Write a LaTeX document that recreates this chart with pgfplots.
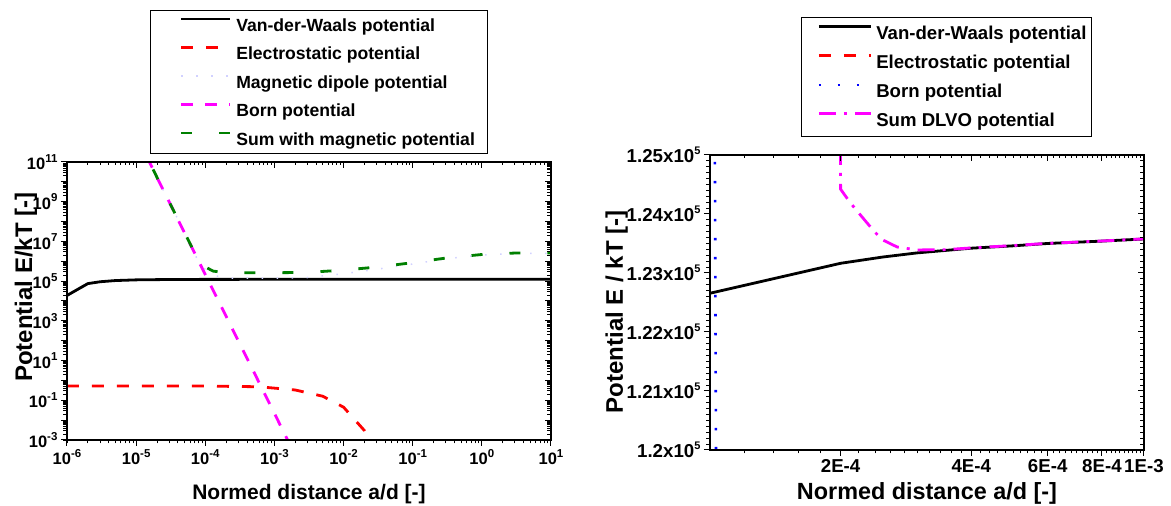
\documentclass[border=0pt]{standalone}
\usepackage{pgfplots}
\pgfplotsset{compat=1.18}
\usepackage{fontspec}
\setmainfont{Liberation Sans}

\definecolor{sumgreen}{RGB}{0,128,0}
\definecolor{pmag}{RGB}{255,0,255}
\definecolor{pblue}{RGB}{0,0,255}
\definecolor{pred}{RGB}{255,0,0}

\newcommand\fs[1]{\fontsize{#1}{#1}\selectfont\bfseries}
% raised exponent in the tick labels
\newcommand\sps[2][11.5]{\raisebox{0.45em}{\fontsize{#1}{#1}\selectfont\bfseries #2}}

\tikzset{
  vdw/.style={black, line width=2.8pt},
  elec/.style={pred, line width=2.8pt, dash pattern=on 12pt off 13pt},
  magn/.style={blue!18, line width=1.5pt, dash pattern=on 1.5pt off 13.5pt},
  bornL/.style={pmag, line width=2.8pt, dash pattern=on 12pt off 12pt},
  summ/.style={sumgreen, line width=2.8pt, dash pattern=on 11pt off 27pt},
  bornR/.style={pblue, line width=2.6pt, dash pattern=on 2.5pt off 16.5pt},
  dlvo/.style={pmag, line width=2.8pt, dash pattern=on 17pt off 8pt on 3pt off 8pt},
}

\begin{document}
\begin{tikzpicture}[x=1pt,y=1pt]
\path[use as bounding box] (0,0) rectangle (1171,506);

% ---------------- left panel: potentials with magnetic term ----------------
\begin{axis}[scale only axis, anchor=south west, at={(67pt,66pt)},
  width=484pt, height=278pt,
  xmode=log, ymode=log, xmin=1e-6, xmax=10, ymin=1e-3, ymax=1e11,
  axis line style={line width=1.3pt},
  major tick style={line width=1pt, black},
  minor tick style={line width=0.8pt, black},
  major tick length=6pt, minor tick length=3.5pt,
  tick align=outside, xtick pos=left, ytick pos=left,
  xtick={1e-6,1e-5,1e-4,1e-3,1e-2,1e-1,1,10},
  ytick={1e-3,1e-2,1e-1,1,1e1,1e2,1e3,1e4,1e5,1e6,1e7,1e8,1e9,1e10,1e11},
  xticklabels={10\sps{-6},10\sps{-5},10\sps{-4},10\sps{-3},10\sps{-2},10\sps{-1},10\sps{0},10\sps{1}},
  yticklabels={10\sps{-3},{},10\sps{-1},{},10\sps{1},{},10\sps{3},{},10\sps{5},{},10\sps{7},{},10\sps{9},{},10\sps{11}},
  tick label style={font=\fs{16.5}},
  xlabel={Normed distance a/d [-]},
  xlabel style={font=\fs{21}, at={(axis description cs:0.5,-0.2158)}, anchor=base},
  ylabel={Potential E/kT [-]},
  ylabel style={font=\fs{24}, at={(axis description cs:-0.0723,0.550)}, anchor=base},
  legend style={at={(0.1715,1.5468)}, anchor=north west, draw=black, line width=1pt,
    fill=white, inner xsep=11.5pt, inner ysep=6.5pt, font=\fs{17.6},
    row sep=12pt, column sep=3pt, nodes={inner xsep=1.5pt, inner ysep=0.5pt},
    cells={anchor=west}},
  legend image code/.code={\path (-18pt,6.3pt); \draw[#1] (0pt,6.3pt) -- (49pt,6.3pt);},
]
\addplot[vdw] coordinates {
  (1e-6,1.9e4) (2e-6,7.5e4) (3e-6,9.3e4) (5e-6,1.07e5) (1e-5,1.16e5)
  (3e-5,1.21e5) (1e-4,1.2265e5) (1e-3,1.2356e5) (1e-2,1.238e5)
  (1e-1,1.239e5) (1,1.239e5) (10,1.239e5)};
\addlegendentry{\rule[-4pt]{0pt}{18pt}Van-der-Waals potential}
\addplot[elec] coordinates {
  (1e-6,0.53) (1e-5,0.53) (1e-4,0.52) (6e-4,0.48) (2e-3,0.33)
  (5e-3,0.16) (1e-2,0.045) (2e-2,0.003) (3e-2,0.0002)};
\addlegendentry{\rule[-4pt]{0pt}{18pt}Electrostatic potential}
\addplot[magn] coordinates {
  (1e-5,2.2e12) (2e-5,1.7e10) (5e-5,2.8e7) (8.5e-5,6e5) (1.3e-4,2e5)
  (2e-4,1.42e5) (1e-3,1.42e5) (3e-3,1.52e5) (1e-2,2.37e5) (3e-2,3.97e5)
  (1e-1,7.27e5) (0.3,1.33e6) (1,2.08e6) (3,2.48e6) (10,2.53e6)};
\addlegendentry{\rule[-4pt]{0pt}{18pt}Magnetic dipole potential}
\addplot[bornL] coordinates {
  (1e-5,2.2e12) (2e-5,1.7e10) (5e-5,2.75e7) (1e-4,2.17e5)
  (2e-4,1.7e3) (5e-4,2.8) (1e-3,0.0218) (2e-3,1.7e-4)};
\addlegendentry{\rule[-4pt]{0pt}{18pt}Born potential}
\addplot[summ] coordinates {
  (1e-5,2.2e12) (2e-5,1.7e10) (5e-5,2.8e7) (8.5e-5,7e5) (1.3e-4,3.2e5)
  (2e-4,2.65e5) (1e-3,2.65e5) (3e-3,2.75e5) (1e-2,3.6e5) (3e-2,5.1e5)
  (1e-1,8.5e5) (0.3,1.45e6) (1,2.2e6) (3,2.6e6) (10,2.65e6)};
\addlegendentry{\rule[-4pt]{0pt}{18pt}Sum with magnetic potential}
\end{axis}
% inward ticks on the top and right edges
\begin{axis}[scale only axis, anchor=south west, at={(67pt,66pt)},
  width=484pt, height=278pt,
  xmode=log, ymode=log, xmin=1e-6, xmax=10, ymin=1e-3, ymax=1e11,
  axis line style={line width=1.3pt},
  major tick style={line width=1pt, black},
  minor tick style={line width=0.8pt, black},
  major tick length=6pt, minor tick length=3.5pt,
  tick align=inside, xtick pos=right, ytick pos=right,
  xtick={1e-6,1e-5,1e-4,1e-3,1e-2,1e-1,1,10},
  ytick={1e-3,1e-2,1e-1,1,1e1,1e2,1e3,1e4,1e5,1e6,1e7,1e8,1e9,1e10,1e11},
  xticklabels={}, yticklabels={}]
\end{axis}

% ---------------- right panel: DLVO close-up ----------------
\begin{axis}[scale only axis, anchor=south west, at={(710pt,56pt)},
  width=434pt, height=295pt,
  xmode=log, xmin=1e-4, xmax=1e-3, ymin=120000, ymax=125000,
  axis line style={line width=1.3pt},
  major tick style={line width=1pt, black},
  minor tick style={line width=0.8pt, black},
  major tick length=6pt, minor tick length=3.5pt,
  tick align=outside, xtick pos=left, ytick pos=left,
  xtick={2e-4,4e-4,6e-4,8e-4,1e-3},
  minor xtick={1.2e-4,1.4e-4,1.6e-4,1.8e-4,2.2e-4,2.4e-4,2.6e-4,2.8e-4,3e-4,3.2e-4,3.4e-4,3.6e-4,3.8e-4,4.2e-4,4.4e-4,4.6e-4,4.8e-4,5e-4,5.2e-4,5.4e-4,5.6e-4,5.8e-4,6.2e-4,6.4e-4,6.6e-4,6.8e-4,7e-4,7.2e-4,7.4e-4,7.6e-4,7.8e-4,8.2e-4,8.4e-4,8.6e-4,8.8e-4,9e-4,9.2e-4,9.4e-4,9.6e-4,9.8e-4},
  ytick={120000,121000,122000,123000,124000,125000},
  minor y tick num=9, scaled y ticks=false,
  xticklabels={2E-4,4E-4,6E-4,8E-4,1E-3},
  yticklabels={1.2x10\sps[11]{5},1.21x10\sps[11]{5},1.22x10\sps[11]{5},1.23x10\sps[11]{5},1.24x10\sps[11]{5},1.25x10\sps[11]{5}},
  tick label style={font=\fs{18.7}},
  xlabel={Normed distance a/d [-]},
  xlabel style={font=\fs{23.4}, at={(axis description cs:0.5,-0.1695)}, anchor=base},
  ylabel={Potential E / kT [-]},
  ylabel style={font=\fs{24}, at={(axis description cs:-0.2005,0.468)}, anchor=base},
  legend style={at={(0.2097,1.4678)}, anchor=north west, draw=black, line width=1pt,
    fill=white, inner xsep=4pt, inner ysep=7.5pt, font=\fs{18.6},
    row sep=12pt, column sep=3pt, nodes={inner xsep=1pt, inner ysep=0.5pt},
    cells={anchor=west}},
  legend image code/.code={\path (-12pt,6.6pt); \draw[#1] (0pt,6.6pt) -- (52pt,6.6pt);},
]
\addplot[vdw] coordinates {
  (1e-4,122656) (2e-4,123164) (2.5e-4,123270) (3e-4,123340) (4e-4,123420)
  (5e-4,123460) (6e-4,123500) (8e-4,123540) (1e-3,123576)};
\addlegendentry{\rule[-4pt]{0pt}{18.5pt}Van-der-Waals potential}
\addplot[elec] coordinates {(1e-4,119000) (6e-4,119000) (1e-3,119000)};
\addlegendentry{\rule[-4pt]{0pt}{18.5pt}Electrostatic potential}
\addplot[bornR] coordinates {
  (1e-4,150000) (1.01e-4,139900) (1.02e-4,130600) (1.03e-4,121970)
  (1.04e-4,114000) (1.1e-4,77000)};
\addlegendentry{\rule[-4pt]{0pt}{18.5pt}Born potential}
\addplot[dlvo] coordinates {
  (1.99e-4,130000) (2e-4,124420) (2.1e-4,124200) (2.2e-4,124020) (2.3e-4,123850)
  (2.4e-4,123690) (2.5e-4,123560) (2.7e-4,123440) (3e-4,123390)
  (3.5e-4,123395) (4e-4,123425) (5e-4,123465) (6e-4,123502)
  (8e-4,123542) (1e-3,123578)};
\addlegendentry{\rule[-4pt]{0pt}{18.5pt}Sum DLVO potential}
\end{axis}
\begin{axis}[scale only axis, anchor=south west, at={(710pt,56pt)},
  width=434pt, height=295pt,
  xmode=log, xmin=1e-4, xmax=1e-3, ymin=120000, ymax=125000,
  axis line style={line width=1.3pt},
  major tick style={line width=1pt, black},
  minor tick style={line width=0.8pt, black},
  major tick length=6pt, minor tick length=3.5pt,
  tick align=inside, xtick pos=right, ytick pos=right,
  xtick={2e-4,4e-4,6e-4,8e-4,1e-3},
  minor xtick={1.2e-4,1.4e-4,1.6e-4,1.8e-4,2.2e-4,2.4e-4,2.6e-4,2.8e-4,3e-4,3.2e-4,3.4e-4,3.6e-4,3.8e-4,4.2e-4,4.4e-4,4.6e-4,4.8e-4,5e-4,5.2e-4,5.4e-4,5.6e-4,5.8e-4,6.2e-4,6.4e-4,6.6e-4,6.8e-4,7e-4,7.2e-4,7.4e-4,7.6e-4,7.8e-4,8.2e-4,8.4e-4,8.6e-4,8.8e-4,9e-4,9.2e-4,9.4e-4,9.6e-4,9.8e-4},
  ytick={120000,121000,122000,123000,124000,125000},
  minor y tick num=9, scaled y ticks=false,
  xticklabels={}, yticklabels={}]
\end{axis}
\end{tikzpicture}
\end{document}
